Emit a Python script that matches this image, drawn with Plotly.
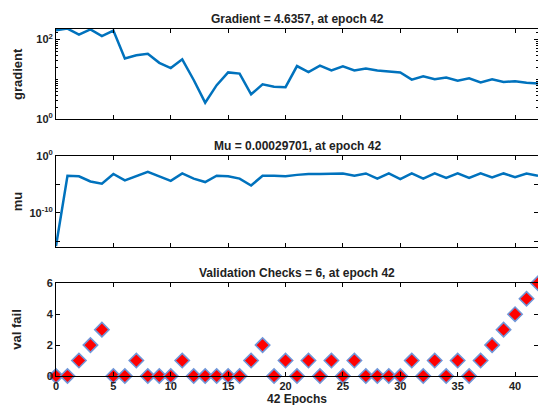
import plotly.graph_objects as go

epochs = list(range(43))
grad_log = [2.23, 2.27, 2.12, 2.25, 2.08, 2.22, 1.52, 1.60, 1.64, 1.41, 1.28, 1.50, 0.98, 0.41,
            0.85, 1.17, 1.14, 0.62, 0.87, 0.81, 0.80, 1.33, 1.18, 1.34, 1.22, 1.32, 1.22, 1.27,
            1.22, 1.19, 1.17, 0.99, 1.07, 1.00, 1.04, 0.96, 1.02, 0.92, 1.00, 0.93, 0.95, 0.91, 0.89]
gradient = [10 ** v for v in grad_log]
mu_log = [-15.8, -3.5, -3.6, -4.5, -4.9, -3.2, -4.3, -3.6, -2.8, -3.6, -4.4, -3.1, -4.0, -4.6,
          -3.5, -3.6, -4.0, -5.2, -3.5, -3.5, -3.6, -3.35, -3.2, -3.2, -3.2, -3.1, -3.5, -3.1,
          -4.0, -3.1, -4.1, -3.1, -4.0, -3.1, -3.9, -3.1, -3.9, -3.1, -3.8, -3.1, -3.75, -3.1, -3.53]
mu = [10 ** v for v in mu_log]
val_fail = [0, 0, 1, 2, 3, 0, 0, 1, 0, 0, 0, 1, 0, 0, 0, 0, 0, 1, 2, 0, 1, 0, 1, 0, 1, 0, 1,
            0, 0, 0, 0, 1, 0, 1, 0, 1, 0, 1, 2, 3, 4, 5, 6]
titles = ["Gradient = 4.6357, at epoch 42", "Mu = 0.00029701, at epoch 42",
          "Validation Checks = 6, at epoch 42"]
ylabels = ["gradient", "mu", "val fail"]
xlabel = "42 Epochs"

BLUE = "#0072BD"
FONT = "Liberation Sans"
W, H = 538, 405
ml, mr, mt, mb = 56, 0, 29, 29
ph = H - mt - mb
def dom(top_px, bot_px):
    return [(H - mb - bot_px) / ph, (H - mb - top_px) / ph]

d1 = dom(29, 119)
d2 = dom(155.7, 246.7)
d3 = dom(283.3, 376)

fig = go.Figure()
fig.add_trace(go.Scatter(x=epochs, y=gradient, mode="lines", line=dict(color=BLUE, width=2.5),
                         xaxis="x", yaxis="y", showlegend=False))
fig.add_trace(go.Scatter(x=epochs, y=mu, mode="lines", line=dict(color=BLUE, width=2.5),
                         xaxis="x2", yaxis="y2", showlegend=False))
fig.add_trace(go.Scatter(x=epochs, y=val_fail, mode="markers",
                         marker=dict(symbol="diamond", size=11, color="#FF0000",
                                     line=dict(color="#7096D8", width=1.6)),
                         xaxis="x3", yaxis="y3", showlegend=False, cliponaxis=False))

tickfont = dict(family=FONT, size=11, color="#222", weight="bold")
xcommon = dict(range=[0, 42], showline=True, linecolor="black", linewidth=1, mirror="ticks",
               ticks="inside", ticklen=4, tickcolor="black", tickvals=list(range(0, 45, 5)),
               showgrid=False, zeroline=False, tickfont=tickfont)
fig.update_layout(
    width=W, height=H, margin=dict(l=ml, r=mr, t=mt, b=mb),
    paper_bgcolor="white", plot_bgcolor="white",
    xaxis=dict(**xcommon, domain=[0, 1], anchor="y", showticklabels=False),
    xaxis2=dict(**xcommon, domain=[0, 1], anchor="y2", showticklabels=False),
    xaxis3=dict(**xcommon, domain=[0, 1], anchor="y3", showticklabels=True),
    yaxis=dict(type="log", range=[0, 2.26], domain=d1, anchor="x", showline=True,
               linecolor="black", mirror="ticks", ticks="inside", ticklen=4, tickcolor="black",
               tickvals=[1, 100], ticktext=["10<sup>0</sup>", "10<sup>2</sup>"],
               minor=dict(ticks="inside", ticklen=2, tickcolor="black",
                          tickvals=[2, 3, 4, 5, 6, 7, 8, 9, 10, 20, 30, 40, 50, 60, 70, 80, 90, 150]),
               showgrid=False, zeroline=False, tickfont=tickfont),
    yaxis2=dict(type="log", range=[-15.9, 0], domain=d2, anchor="x2", showline=True,
                linecolor="black", mirror="ticks", ticks="inside", ticklen=4, tickcolor="black",
                tickvals=[1, 1e-10],
                ticktext=["10<sup>0</sup>", "10<sup>-10</sup>"],
                minor=dict(ticks="inside", ticklen=4, tickcolor="black", tickvals=[1e-5, 1e-15]),
                showgrid=False, zeroline=False, tickfont=tickfont),
    yaxis3=dict(range=[0, 6], domain=d3, anchor="x3", showline=True, linecolor="black",
                mirror="ticks", ticks="inside", ticklen=4, tickcolor="black",
                tickvals=[0, 2, 4, 6], showgrid=False, zeroline=False, tickfont=tickfont),
)

tops = [29, 155.7, 283.3]
bots = [119, 246.7, 376]
for t, yl, tp, bp in zip(titles, ylabels, tops, bots):
    fig.add_annotation(text=t, xref="paper", yref="paper", x=0.5,
                       y=(H - mb - (tp - 10)) / ph, xanchor="center", yanchor="middle",
                       showarrow=False, font=dict(family=FONT, size=12, color="#222", weight="bold"))
    fig.add_annotation(text=yl, xref="paper", yref="paper", x=(17 - ml) / (W - ml - mr),
                       y=(H - mb - (tp + bp) / 2) / ph, xanchor="center", yanchor="middle",
                       textangle=-90, showarrow=False,
                       font=dict(family=FONT, size=13, color="#222", weight="bold"))
fig.add_annotation(text=xlabel, xref="paper", yref="paper", x=0.5,
                   y=(H - mb - 399) / ph, xanchor="center", yanchor="middle", showarrow=False,
                   font=dict(family=FONT, size=12, color="#222", weight="bold"))

fig.write_html("out.html")
